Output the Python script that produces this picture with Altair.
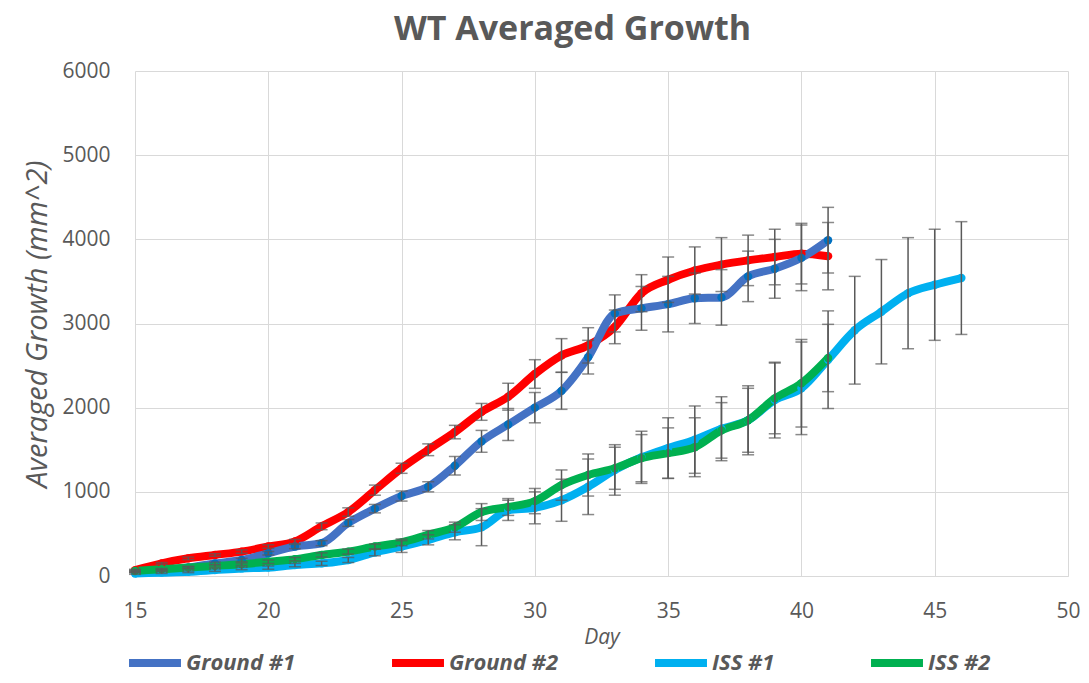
import altair as alt
import pandas as pd

series_names = ["Ground #1", "Ground #2", "ISS #1", "ISS #2"]
line_colors = ["#4472C4", "#FF0000", "#00B0F0", "#00B050"]
marker_colors = ["#0070C0", "#FF0000", "#00B0F0", "#00B050"]

days_ground = list(range(15, 42))
days_iss1 = list(range(15, 47))
days_iss2 = list(range(15, 42))

ground1 = [50, 70, 100, 150, 190, 270, 350, 390, 630, 800, 950, 1060, 1310, 1600, 1800,
           2000, 2200, 2600, 3120, 3180, 3230, 3300, 3310, 3560, 3650, 3780, 3990]
ground2 = [70, 150, 210, 250, 290, 350, 410, 590, 760, 1020, 1280, 1500, 1710, 1950, 2130,
           2400, 2620, 2740, 2960, 3360, 3520, 3630, 3700, 3750, 3790, 3830, 3800]
iss1 = [30, 40, 50, 70, 90, 100, 130, 150, 190, 280, 350, 430, 520, 580, 780, 810,
        900, 1060, 1260, 1410, 1520, 1620, 1750, 1850, 2090, 2230, 2570, 2920, 3140, 3360, 3460, 3540]
iss2 = [60, 80, 100, 120, 140, 170, 200, 250, 290, 350, 400, 490, 580, 760, 820,
        890, 1080, 1200, 1280, 1400, 1460, 1530, 1730, 1850, 2110, 2290, 2590]

ground1_err = [10, 10, 15, 15, 20, 20, 25, 30, 40, 50, 60, 60, 110, 130, 190, 180, 220, 200,
               220, 260, 330, 300, 330, 300, 350, 390, 390]
ground2_err = [10, 10, 15, 15, 20, 20, 25, 40, 50, 60, 60, 70, 80, 100, 160, 170, 200, 210,
               200, 220, 270, 280, 320, 300, 330, 360, 400]
iss1_err = [10, 10, 10, 15, 15, 20, 20, 25, 30, 40, 70, 60, 90, 220, 120, 190, 250, 330,
            300, 310, 360, 400, 380, 410, 450, 550, 580, 640, 620, 660, 660, 670]
iss2_err = [10, 10, 10, 15, 15, 20, 20, 25, 30, 30, 40, 50, 60, 100, 100, 150, 180, 250,
            250, 280, 300, 350, 330, 380, 420, 520, 400]

x_ticks = [15, 20, 25, 30, 35, 40, 45, 50]
y_ticks = [0, 1000, 2000, 3000, 4000, 5000, 6000]

rows = []
for name, days, vals, errs in [
    ("Ground #2", days_ground, ground2, ground2_err),
    ("Ground #1", days_ground, ground1, ground1_err),
    ("ISS #1", days_iss1, iss1, iss1_err),
    ("ISS #2", days_iss2, iss2, iss2_err),
]:
    for d, v, e in zip(days, vals, errs):
        rows.append({"series": name, "day": d, "value": v, "lo": v - e, "hi": v + e})
df = pd.DataFrame(rows)

GREY = "#595959"
FONT = "Open Sans"

x = alt.X("day:Q", title="Day",
          scale=alt.Scale(domain=[15, 50], nice=False),
          axis=alt.Axis(values=x_ticks, grid=True, gridColor="#D9D9D9", ticks=False,
                        domainColor="#D9D9D9", labelFontSize=21, labelColor=GREY,
                        labelFont=FONT, labelPadding=24, labelFlush=False,
                        titleFont=FONT, titleFontSize=21,
                        titleFontStyle="italic", titleFontWeight="normal", titleColor=GREY,
                        titlePadding=5))
y_axis = alt.Axis(values=y_ticks, format="d", grid=True, gridColor="#D9D9D9", ticks=False,
                  domain=False, labelFontSize=21, labelColor=GREY, labelFont=FONT,
                  labelPadding=25, labelFlush=False, titleFont=FONT, titleFontSize=29,
                  titleFontStyle="italic", titleFontWeight="normal", titleColor=GREY,
                  titlePadding=9)
y = alt.Y("value:Q", title="Averaged Growth (mm^2)",
          scale=alt.Scale(domain=[0, 6000], nice=False), axis=y_axis)

color = alt.Color("series:N",
                  scale=alt.Scale(domain=series_names, range=line_colors),
                  legend=alt.Legend(title=None, orient="none", direction="horizontal",
                                    legendX=-10, legendY=562, columns=4,
                                    symbolType="stroke", symbolStrokeWidth=8,
                                    symbolSize=2700, columnPadding=80,
                                    labelFont=FONT, labelFontSize=22,
                                    labelFontStyle="italic", labelFontWeight="bold",
                                    labelColor=GREY, labelOffset=1))

lines = alt.Chart(df).mark_line(strokeWidth=8, interpolate="monotone").encode(
    x=x, y=y, color=color, detail="series:N")

points = alt.Chart(df).mark_point(filled=True, shape="circle", size=70, opacity=1).encode(
    x="day:Q", y="value:Q",
    fill=alt.Fill("series:N", scale=alt.Scale(domain=series_names, range=marker_colors),
                  legend=None))

rules = alt.Chart(df).mark_rule(color=GREY, strokeWidth=1.5).encode(
    x="day:Q", y="lo:Q", y2="hi:Q")
ticks_lo = alt.Chart(df).mark_tick(color=GREY, orient="horizontal", size=12,
                                   thickness=1.5).encode(x="day:Q", y="lo:Q")
ticks_hi = alt.Chart(df).mark_tick(color=GREY, orient="horizontal", size=12,
                                   thickness=1.5).encode(x="day:Q", y="hi:Q")

chart = alt.layer(lines, points, rules, ticks_lo, ticks_hi).properties(
    width=933, height=505,
    title=alt.TitleParams("WT Averaged Growth", font=FONT, fontSize=34, fontWeight="bold",
                          color=GREY, anchor="middle", dx=-29, offset=13),
    autosize=alt.AutoSizeParams(type="none"),
    padding={"left": 127, "top": 63, "right": 13, "bottom": 99},
).configure_view(stroke=None)

chart.save("out.html", embed_options={"renderer": "svg", "actions": False})
